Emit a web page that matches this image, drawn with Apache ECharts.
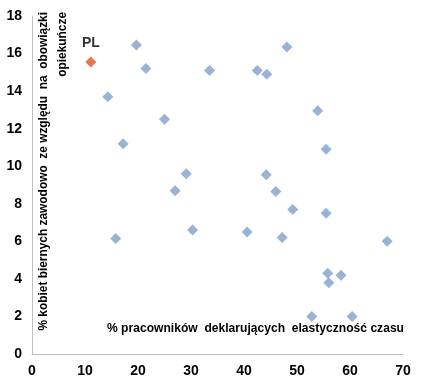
<!DOCTYPE html>
<html><head><meta charset="utf-8">
<script src="https://cdn.jsdelivr.net/npm/echarts@6/dist/echarts.min.js"></script>
<style>html,body{margin:0;padding:0;background:#fff}#c{width:422px;height:382px}</style>
</head><body><div id="c"></div>
<script>
const xTicks = [0,10,20,30,40,50,60,70];
const yTicks = [0,2,4,6,8,10,12,14,16,18];
const otherX = [19.7,21.5,33.5,42.5,44.3,48.1,14.3,25.0,17.2,53.9,55.5,44.2,46.0,29.1,27.0,49.2,55.5,30.3,40.6,47.2,15.8,67.0,55.8,58.3,56.0,52.8,60.4];
const otherY = [16.45,15.2,15.1,15.1,14.9,16.35,13.7,12.5,11.2,12.95,10.9,9.55,8.65,9.6,8.7,7.7,7.5,6.6,6.5,6.2,6.15,6.0,4.3,4.2,3.8,2.0,2.0];
const plX = [11.1];
const plY = [15.55];
const plName = 'PL';
const xTitle = '% pracowników  deklarujących  elastyczność czasu';
const yTitle = '% kobiet biernych zawodowo  ze względu  na  obowiązki\nopiekuńcze';

const FONT = '"Liberation Sans Narrow","Arial Narrow","Liberation Sans",Arial,sans-serif';
const chart = echarts.init(document.getElementById('c'));
chart.setOption({
  animation: false,
  grid: {left: 32, right: 19, top: 16, bottom: 28},
  xAxis: {
    type: 'value', min: 0, max: 70, interval: 10,
    axisLine: {show: true, lineStyle: {color: '#bfbfbf', width: 1}},
    axisTick: {show: false}, splitLine: {show: false},
    axisLabel: {color: '#000', fontWeight: 'bold', fontSize: 14, fontFamily: FONT, margin: 10,
      formatter: v => xTicks.includes(v) ? String(v) : ''}
  },
  yAxis: {
    type: 'value', min: 0, max: 18, interval: 2,
    axisLine: {show: true, lineStyle: {color: '#bfbfbf', width: 1}},
    axisTick: {show: false}, splitLine: {show: false},
    axisLabel: {color: '#000', fontWeight: 'bold', fontSize: 14, fontFamily: FONT, margin: 10,
      formatter: v => yTicks.includes(v) ? String(v) : ''}
  },
  graphic: [
    {type: 'text', x: 53, y: 12, rotation: Math.PI/2, scaleX: 0.915,
     style: {text: yTitle, fontFamily: FONT, fontWeight: 'bold', fontSize: 13, fill: '#000',
       align: 'right', verticalAlign: 'middle', lineHeight: 19}},
    {type: 'text', x: 404, y: 328, scaleX: 0.93,
     style: {text: xTitle, fontFamily: FONT, fontWeight: 'bold', fontSize: 13, fill: '#000',
       align: 'right', verticalAlign: 'middle'}}
  ],
  series: [
    {type: 'scatter', symbol: 'diamond', symbolSize: 11,
     itemStyle: {color: '#819fcc'},
     data: otherX.map((x, i) => [x, otherY[i]])},
    {type: 'scatter', symbol: 'diamond', symbolSize: 11,
     itemStyle: {color: '#e2531f'},
     label: {show: true, position: 'top', distance: 6, formatter: plName,
       color: '#000', fontWeight: 'bold', fontSize: 14, fontFamily: 'Liberation Sans, Arial, sans-serif'},
     data: plX.map((x, i) => [x, plY[i]])}
  ]
});
</script></body></html>
